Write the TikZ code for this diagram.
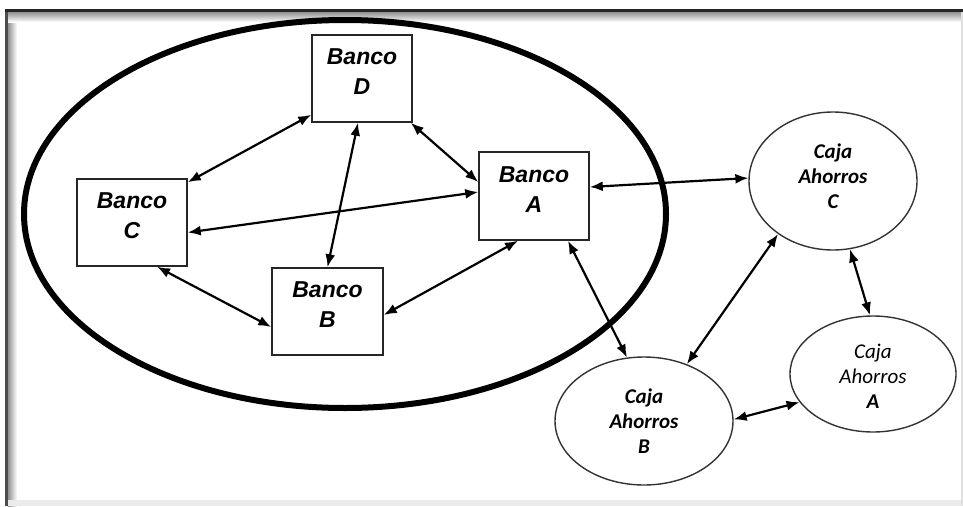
\documentclass[tikz,border=0pt]{standalone}
\usepackage{fontspec}
\newfontfamily\arialf{Liberation Sans}
\newfontfamily\calibf{Carlito}
\usetikzlibrary{shapes.geometric,arrows.meta,calc}
\newcommand\liftt[2]{\raisebox{#1}[\height][\depth]{\begin{tabular}{@{}c@{}}#2\end{tabular}}}
\begin{document}
\begin{tikzpicture}[x=1pt,y=1pt,
  bank/.style={draw=black!85,line width=1.5pt,rectangle,inner sep=0pt,
    font=\arialf\bfseries\itshape\fontsize{23}{30}\selectfont},
  caja/.style={draw=black!80,line width=1.4pt,ellipse,inner sep=0pt,
    font=\calibf\bfseries\itshape\fontsize{21}{25}\selectfont},
  link/.style={line width=2.2pt,{Latex[length=13pt,width=10pt]}-{Latex[length=13pt,width=10pt]}}]
\useasboundingbox (0,0) rectangle (963,-506);
% frame
\fill[white] (0,0) rectangle (963,-506);
\shade[left color=black!45,right color=white] (7.5,-10) rectangle (17,-506);
\shade[top color=black!45,bottom color=white] (5,-11.5) rectangle (963,-22);
\fill[black!70] (5,-10) rectangle (7.5,-506);
\fill[black!85] (5,-9) rectangle (963,-11.5);
\fill[black!8] (7.5,-500) rectangle (963,-506);
\fill[black!12] (961,-11.5) rectangle (963,-506);
% big ellipse
\draw[line width=6pt] (345,-214) ellipse [x radius=321, y radius=194];
% banks
\node[bank,minimum width=100pt,minimum height=87pt] (D) at (362,-78.5) {\liftt{5pt}{Banco\\D}};
\node[bank,minimum width=110pt,minimum height=87pt] (C) at (132,-222.5) {\liftt{5pt}{Banco\\C}};
\node[bank,minimum width=110pt,minimum height=88pt] (A) at (534,-196) {\liftt{5pt}{Banco\\A}};
\node[bank,minimum width=111pt,minimum height=87pt] (B) at (327.5,-311.5) {\liftt{5pt}{Banco\\B}};
% cajas
\node[caja,minimum width=168pt,minimum height=138pt] (cC) at (833,-181) {\liftt{3pt}{Caja\\Ahorros\\C}};
\node[caja,minimum width=178pt,minimum height=128pt] (cB) at (644,-421) {\liftt{-2pt}{Caja\\Ahorros\\B}};
\node[caja,minimum width=166pt,minimum height=116pt] (cA) at (873,-374) {\liftt{-4pt}{\mdseries Caja\\\mdseries Ahorros\\A}};
% connectors
\draw[link] ([yshift=8pt]D.south west) -- ([yshift=-4pt]C.north east);
\draw[link] ([xshift=-4pt]D.south) -- (B.north);
\draw[link] ([xshift=-2pt]D.south east) -- ([yshift=14pt]A.west);
\draw[link] ([yshift=-10pt]C.east) -- ([yshift=4pt]A.west);
\draw[link] ([xshift=25pt]C.south) -- ([yshift=-15.5pt]B.west);
\draw[link] ([yshift=-3.5pt]B.east) -- ([xshift=-16pt]A.south);
\draw[link] ([yshift=9pt]A.east) -- (cC.178);
\draw[link] ([xshift=34pt]A.south) -- (cB.105);
\draw[link] (cC.224) -- (cB.53);
\draw[link] (cC.284) -- (cA.93);
\draw[link] (cB.1) -- (cA.201);
\end{tikzpicture}
\end{document}
